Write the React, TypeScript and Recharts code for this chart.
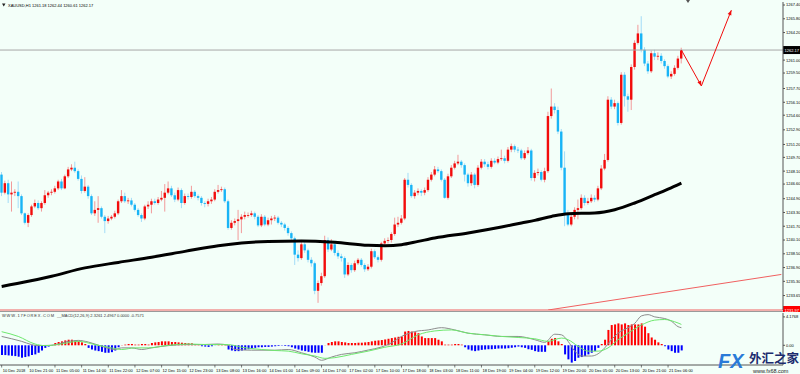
import { ComposedChart, Bar, Line, XAxis, YAxis, ReferenceLine, Cell } from 'recharts'

const FONT = '"Liberation Sans", Arial, sans-serif'
const BG = '#f3fff9'
const UP = '#f20c0c'
const UP_WICK = '#f29a9a'
const DOWN = '#18b4f6'
const DOWN_WICK = '#a3dcf7'

// bar slots across the plot, including the empty chart shift on the right
const SLOTS = 235

// XAUUSD H1 candles, 10 Dec 13:00 .. 21 Dec 10:00
const firstOpen = 1247.7
const closes = [
  1245.6, 1246.7, 1245.4, 1245.6, 1245.7, 1245.2, 1243.2, 1242.1, 1243.0, 1244.0,
  1244.4, 1243.8, 1244.4, 1245.3, 1245.6, 1245.7, 1246.1, 1246.9, 1246.1, 1247.5,
  1248.3, 1248.5, 1248.1, 1247.2, 1245.8, 1246.3, 1245.2, 1243.2, 1243.6, 1243.8,
  1242.8, 1242.3, 1242.6, 1242.8, 1243.2, 1244.6, 1245.2, 1244.6, 1244.7, 1244.2,
  1243.6, 1243.0, 1242.6, 1244.0, 1244.2, 1244.6, 1244.4, 1244.8, 1245.0, 1245.6,
  1246.1, 1245.3, 1244.8, 1245.9, 1244.4, 1245.2, 1245.1, 1245.7, 1245.2, 1245.0,
  1244.4, 1244.3, 1244.6, 1244.8, 1245.7, 1245.9, 1246.0, 1244.6, 1241.5, 1242.1,
  1242.3, 1242.5, 1242.8, 1243.0, 1243.0, 1243.2, 1242.8, 1241.8, 1242.8, 1241.9,
  1242.4, 1242.6, 1242.7, 1242.1, 1241.9, 1241.5, 1240.9, 1240.3, 1238.4, 1238.0,
  1239.6, 1238.9, 1237.8, 1237.4, 1234.2, 1235.1, 1235.9, 1240.1, 1239.0, 1239.6,
  1238.6, 1238.2, 1238.0, 1236.1, 1237.2, 1236.6, 1237.4, 1237.8, 1237.2, 1236.7,
  1237.0, 1238.8, 1238.1, 1237.8, 1239.7, 1240.0, 1240.1, 1240.8, 1241.9, 1242.1,
  1242.6, 1247.1, 1246.5, 1245.2, 1245.6, 1245.8, 1245.6, 1245.9, 1247.1, 1247.7,
  1248.3, 1248.1, 1247.1, 1245.0, 1247.5, 1248.5, 1249.0, 1249.2, 1248.8, 1247.7,
  1246.7, 1247.7, 1246.5, 1248.5, 1249.2, 1248.9, 1248.6, 1249.3, 1249.1, 1249.5,
  1249.6, 1249.3, 1250.6, 1251.0, 1250.6, 1250.5, 1249.6, 1250.2, 1250.5, 1247.3,
  1247.9, 1248.0, 1247.1, 1248.1, 1254.5, 1255.6, 1255.2, 1252.7, 1248.5, 1243.2,
  1241.9, 1242.8, 1243.6, 1243.8, 1245.0, 1244.4, 1244.6, 1245.0, 1244.8, 1246.1,
  1248.4, 1249.4, 1256.4, 1255.6, 1256.0, 1253.7, 1259.3, 1256.8, 1256.4, 1260.2,
  1263.0, 1264.1, 1262.2, 1260.6, 1259.7, 1261.8, 1261.4, 1261.5, 1260.9, 1260.3,
  1259.1, 1259.4, 1260.1, 1261.18, 1262.17,
]
const highs = [
  1248.0, 1247.0, 1247.1, 1246.9, 1246.0, 1246.9, 1245.4, 1243.3, 1243.2, 1244.2,
  1244.8, 1244.7, 1244.6, 1245.9, 1245.8, 1246.0, 1246.4, 1247.1, 1247.2, 1247.7,
  1248.6, 1248.9, 1249.2, 1248.3, 1247.6, 1247.4, 1246.5, 1245.4, 1244.6, 1245.2,
  1244.0, 1243.0, 1242.9, 1243.0, 1243.5, 1244.8, 1245.9, 1245.6, 1245.0, 1245.0,
  1244.4, 1243.8, 1243.2, 1244.2, 1244.6, 1244.9, 1244.9, 1245.1, 1245.8, 1246.6,
  1246.9, 1246.4, 1245.6, 1246.2, 1246.1, 1245.5, 1245.5, 1246.4, 1245.9, 1245.4,
  1245.2, 1244.6, 1244.9, 1245.1, 1246.0, 1246.5, 1246.3, 1246.2, 1244.8, 1242.4,
  1242.6, 1243.6, 1243.1, 1243.4, 1243.3, 1243.5, 1243.4, 1243.0, 1243.1, 1243.0,
  1242.7, 1242.9, 1243.0, 1242.9, 1242.3, 1242.1, 1241.7, 1241.1, 1240.5, 1238.9,
  1239.9, 1240.0, 1239.1, 1238.1, 1237.6, 1235.4, 1236.3, 1240.6, 1240.4, 1240.2,
  1239.8, 1238.9, 1238.5, 1238.2, 1237.5, 1237.4, 1237.7, 1238.0, 1238.0, 1237.4,
  1237.3, 1239.1, 1239.0, 1238.3, 1239.9, 1240.3, 1240.4, 1241.0, 1242.7, 1242.8,
  1243.0, 1247.3, 1247.9, 1246.7, 1245.9, 1246.1, 1246.0, 1246.2, 1247.4, 1248.0,
  1248.7, 1248.6, 1248.3, 1247.3, 1247.8, 1248.8, 1249.3, 1250.0, 1249.4, 1249.0,
  1247.9, 1248.0, 1247.9, 1248.8, 1249.5, 1249.5, 1249.2, 1249.6, 1249.6, 1249.8,
  1250.6, 1249.9, 1250.9, 1251.3, 1251.2, 1250.9, 1250.7, 1250.5, 1250.9, 1250.7,
  1248.2, 1248.4, 1248.2, 1248.5, 1255.0, 1257.7, 1256.0, 1255.6, 1253.0, 1250.4,
  1243.6, 1243.1, 1243.9, 1244.8, 1245.4, 1245.3, 1245.0, 1245.4, 1245.3, 1246.4,
  1248.8, 1250.1, 1256.8, 1256.7, 1256.4, 1256.2, 1259.6, 1259.6, 1257.1, 1260.5,
  1263.3, 1265.1, 1266.1, 1262.5, 1260.9, 1262.1, 1262.2, 1261.9, 1261.8, 1261.1,
  1260.5, 1259.7, 1260.4, 1261.5, 1262.44,
]
const lows = [
  1245.2, 1245.4, 1244.4, 1243.4, 1245.2, 1243.8, 1243.0, 1241.9, 1241.6, 1242.8,
  1243.8, 1243.6, 1243.4, 1244.2, 1245.0, 1245.3, 1245.5, 1245.9, 1245.9, 1246.0,
  1247.3, 1248.1, 1247.9, 1247.0, 1245.5, 1245.6, 1244.9, 1243.0, 1242.9, 1242.1,
  1242.6, 1240.9, 1242.0, 1242.4, 1242.6, 1243.0, 1244.4, 1244.4, 1244.3, 1244.0,
  1243.4, 1242.8, 1242.2, 1242.4, 1243.7, 1243.2, 1244.2, 1244.2, 1244.6, 1243.4,
  1245.4, 1245.1, 1244.5, 1244.6, 1243.8, 1244.2, 1244.8, 1244.9, 1245.0, 1244.7,
  1244.1, 1243.9, 1244.0, 1244.3, 1244.6, 1245.5, 1245.7, 1244.4, 1241.3, 1241.3,
  1241.8, 1240.1, 1240.9, 1242.5, 1242.7, 1242.8, 1242.5, 1241.6, 1241.6, 1241.7,
  1241.7, 1241.9, 1242.3, 1241.9, 1241.6, 1241.2, 1240.6, 1240.0, 1237.2, 1237.6,
  1237.8, 1238.6, 1237.5, 1237.0, 1233.8, 1232.8, 1234.8, 1235.7, 1238.7, 1238.8,
  1238.3, 1237.9, 1237.6, 1235.7, 1235.9, 1236.3, 1236.4, 1237.2, 1237.0, 1236.4,
  1236.5, 1236.8, 1237.9, 1237.5, 1237.6, 1239.5, 1239.7, 1239.8, 1240.6, 1241.6,
  1241.9, 1242.4, 1246.2, 1245.0, 1244.9, 1245.3, 1245.2, 1245.3, 1245.7, 1246.9,
  1247.5, 1247.9, 1246.9, 1244.9, 1244.8, 1247.3, 1248.3, 1248.8, 1248.5, 1246.9,
  1246.3, 1246.4, 1246.1, 1246.3, 1248.3, 1248.6, 1248.3, 1248.4, 1248.9, 1248.9,
  1249.3, 1249.0, 1249.1, 1250.3, 1250.3, 1250.2, 1249.4, 1249.4, 1250.0, 1247.0,
  1246.9, 1247.6, 1246.9, 1246.8, 1247.9, 1254.2, 1254.8, 1252.4, 1248.2, 1241.7,
  1241.7, 1241.7, 1242.5, 1242.5, 1243.6, 1244.1, 1244.2, 1244.4, 1244.5, 1244.6,
  1245.9, 1248.2, 1249.2, 1255.3, 1255.3, 1253.4, 1253.5, 1255.6, 1255.0, 1255.2,
  1259.9, 1262.8, 1261.9, 1260.3, 1259.4, 1259.5, 1261.0, 1261.0, 1260.6, 1260.0,
  1258.9, 1258.8, 1259.2, 1259.9, 1260.61,
]

// moving average (black), read at selected bars
const maIdx = [0, 8, 15, 25, 35, 45, 55, 65, 72, 80, 90, 100, 110, 115, 120, 125, 130, 140, 150, 156, 160, 165, 170, 178, 184, 190, 196, 200, 204]
const maVal = [1234.7, 1235.3, 1235.9, 1236.86, 1237.5, 1238.1, 1238.78, 1239.44, 1239.76, 1239.94, 1240.0, 1239.83, 1239.48, 1239.44, 1239.56, 1239.94, 1240.33, 1240.92, 1241.61, 1242.08, 1242.38, 1242.84, 1243.16, 1243.24, 1243.62, 1244.4, 1245.36, 1246.02, 1246.72]

// drawn objects
const trendIdx = [164, 234]
const trendVal = [1231.97, 1236.1]
const arrowIdx = [204, 210, 219]
const arrowVal = [1262.17, 1258.0, 1266.8]
const arrowAngles: Record<number, number> = { 210: 65, 219: -68 }

const lastPrice = 1262.17
const levelPrice = 1231.97

// MACD panel
const hist = [
  -1.44, -1.44, -1.49, -1.54, -1.59, -1.68, -1.83, -1.73, -1.63, -1.44,
  -1.34, -1.10, -0.77, -0.38, -0.19, 0.05, 0.34, 0.48, 0.58, 0.72,
  0.82, 0.82, 0.67, 0.58, 0.43, 0.19, -0.38, -0.62, -0.77, -0.86,
  -0.96, -1.10, -1.10, -1.01, -0.77, -0.29, 0.03, 0.10, 0.19, 0.19,
  0.10, 0.10, 0.19, 0.19, 0.10, 0.34, 0.43, 0.48, 0.58, 0.58,
  0.58, 0.48, 0.48, 0.43, 0.38, 0.34, 0.29, 0.29, 0.19, 0.10,
  -0.14, -0.19, -0.24, -0.14, -0.02, 0.10, 0.19, 0.10, -0.62, -0.77,
  -0.86, -0.86, -0.77, -0.67, -0.58, -0.48, -0.38, -0.29, -0.29, -0.24,
  -0.24, -0.19, -0.14, -0.10, -0.05, -0.10, -0.14, -0.29, -0.48, -0.62,
  -0.77, -0.86, -0.96, -1.06, -1.10, -1.10, -1.10, 0.02, 0.34, 0.48,
  0.58, 0.58, 0.48, 0.43, 0.34, 0.34, 0.34, 0.38, 0.38, 0.43,
  0.48, 0.58, 0.67, 0.72, 0.77, 0.86, 0.96, 1.06, 1.15, 1.25,
  1.30, 2.02, 2.11, 2.02, 1.92, 1.78, 1.30, 1.06, 1.06, 1.06,
  1.06, 0.82, 0.58, 0.10, 0.10, 0.10, 0.19, 0.19, 0.10, -0.29,
  -0.62, -0.77, -0.86, -0.77, -0.67, -0.62, -0.58, -0.58, -0.53, -0.48,
  -0.48, -0.48, -0.43, -0.38, -0.29, -0.19, -0.29, -0.38, -0.58, -0.67,
  -0.86, -0.96, -0.96, -0.96, 0.58, 0.96, 1.06, 0.58, 0.19, -1.34,
  -2.07, -2.55, -2.31, -1.83, -1.73, -1.59, -1.34, -1.10, -0.86, -0.38,
  0.19, 0.82, 2.26, 2.98, 3.07, 3.22, 3.07, 3.22, 2.98, 3.07,
  3.07, 3.07, 3.22, 2.74, 1.78, 1.15, 0.82, 0.43, 0.19, -0.14,
  -0.62, -0.86, -1.10, -1.10, -0.76,
]
const macdIdx = [0, 3, 6, 9, 11, 15, 20, 23, 26, 30, 34, 36, 39, 42, 45, 50, 55, 60, 65, 68, 70, 75, 82, 86, 90, 94, 96, 99, 102, 106, 110, 114, 117, 120, 124, 128, 132, 136, 140, 145, 150, 155, 160, 163, 166, 168, 170, 172, 174, 177, 179, 181, 183, 185, 188, 190, 192, 194, 196, 199, 201, 203, 204]
const macdVal = [1.30, 0.96, 0.58, 0.10, -0.05, 0, 0.58, 0.72, 0.48, -0.14, -0.62, -0.38, -0.38, -0.62, -0.38, -0.05, 0.10, 0.10, 0.19, 0, -0.62, -0.72, -0.72, -0.62, -1.10, -1.73, -2.21, -1.73, -1.34, -1.10, -0.70, -0.25, 0.35, 1.30, 2.02, 2.26, 2.59, 2.26, 1.78, 1.54, 1.30, 1.30, 0.82, 0.43, 1.63, 1.54, 0.58, -0.86, -1.58, -1.58, -1.25, -0.38, 0.82, 1.78, 2.59, 3.22, 4.32, 4.51, 4.18, 3.94, 3.55, 2.74, 2.59]
const sigIdx = [0, 5, 10, 13, 18, 23, 28, 33, 36, 40, 44, 50, 56, 62, 68, 72, 78, 82, 86, 90, 94, 97, 100, 105, 110, 115, 120, 125, 130, 135, 140, 145, 150, 155, 160, 164, 168, 170, 173, 176, 179, 182, 185, 188, 192, 196, 199, 202, 204]
const sigVal = [2.0, 1.3, 0.19, -0.05, 0.19, 0.58, 0.10, -0.38, -0.62, -0.38, -0.38, 0, 0.19, 0.10, 0.10, -0.29, -0.62, -0.77, -0.86, -1.25, -1.58, -1.92, -1.82, -1.34, -0.86, -0.29, 0.19, 1.54, 2.11, 2.26, 1.78, 1.54, 1.30, 1.15, 0.96, 0.58, 1.06, 0.82, -0.14, -0.86, -0.86, -0.38, 0.82, 1.78, 2.98, 3.70, 3.79, 3.46, 3.07]

const priceTicks = [1267.4, 1265.8, 1264.2, 1261.0, 1259.5, 1257.7, 1256.1, 1254.6, 1252.9, 1251.2, 1249.7, 1248.1, 1246.6, 1244.9, 1243.3, 1241.7, 1240.1, 1238.5, 1236.9, 1235.3, 1233.65]
const macdTicks = [4.1768, 0]
const dateIdx = [0, 8, 16, 24, 32, 40, 48, 56, 64, 72, 80, 88, 96, 104, 112, 120, 128, 136, 144, 152, 160, 168, 176, 184, 192, 200]
const dateLabels = [
  '10 Dec 2018', '10 Dec 21:00', '11 Dec 05:00', '11 Dec 14:00', '11 Dec 22:00', '12 Dec 07:00',
  '12 Dec 15:00', '12 Dec 23:00', '13 Dec 08:00', '13 Dec 16:00', '14 Dec 01:00', '14 Dec 09:00',
  '14 Dec 17:00', '17 Dec 02:00', '17 Dec 10:00', '17 Dec 18:00', '18 Dec 03:00', '18 Dec 11:00',
  '18 Dec 19:00', '19 Dec 04:00', '19 Dec 12:00', '19 Dec 20:00', '20 Dec 05:00', '20 Dec 13:00',
  '20 Dec 21:00', '21 Dec 06:00',
]

const pick = (idx: number[], val: number[], i: number) => {
  const j = idx.indexOf(i)
  return j >= 0 ? val[j] : null
}

const mainRows = Array.from({ length: SLOTS }, (_, i) => {
  const has = i < closes.length
  return {
    i,
    open: has ? (i === 0 ? firstOpen : closes[i - 1]) : null,
    close: has ? closes[i] : null,
    high: has ? highs[i] : null,
    low: has ? lows[i] : null,
    range: has ? [lows[i], highs[i]] : null,
    ma: pick(maIdx, maVal, i),
    trend: pick(trendIdx, trendVal, i),
    arrow: pick(arrowIdx, arrowVal, i),
  }
})

const macdRows = Array.from({ length: SLOTS }, (_, i) => ({
  i,
  hist: i < hist.length ? hist[i] : null,
  macd: pick(macdIdx, macdVal, i),
  signal: pick(sigIdx, sigVal, i),
}))

function Candle(props: any) {
  const { x, y, width, height, payload } = props
  if (!payload || payload.close == null) return <g />
  const { open, close, high, low } = payload
  const top = Math.min(y, y + height)
  const h = Math.abs(height)
  const k = high > low ? h / (high - low) : 0
  const up = close >= open
  const bTop = top + (high - Math.max(open, close)) * k
  const bBot = top + (high - Math.min(open, close)) * k
  const cx = x + width / 2
  return (
    <g>
      <line x1={cx} x2={cx} y1={top} y2={top + h} stroke={up ? UP_WICK : DOWN_WICK} strokeWidth={1} />
      <rect x={cx - 1.2} y={bTop} width={2.4} height={Math.max(0.8, bBot - bTop)} fill={up ? UP : DOWN} />
    </g>
  )
}

function ArrowHead(props: any) {
  const { cx, cy, index } = props
  const a = arrowAngles[index]
  if (a == null || cx == null || cy == null) return <g key={index} />
  return (
    <polygon
      key={index}
      points="0,0 -5,-2 -5,2"
      transform={`translate(${cx},${cy}) rotate(${a})`}
      fill={UP}
    />
  )
}

function PriceTag(props: any) {
  const { viewBox, text, bg } = props
  if (!viewBox) return null
  const x = viewBox.x + viewBox.width
  const y = viewBox.y
  return (
    <g>
      <rect x={x} y={y - 4} width={18} height={8} fill={bg} />
      <text x={x + 1.5} y={y + 1.6} fontSize={4} fill="#fff" fontFamily={FONT}>
        {text}
      </text>
    </g>
  )
}

function DateTick(props: any) {
  const { x, y, payload } = props
  const j = dateIdx.indexOf(payload.value)
  return (
    <g>
      <line x1={x} x2={x} y1={y} y2={y + 2.5} stroke="#444" strokeWidth={0.7} />
      <text x={x + 1} y={y + 6.5} fontSize={4} fill="#000" fontFamily={FONT}>
        {j >= 0 ? dateLabels[j] : ''}
      </text>
    </g>
  )
}

export default function App() {
  return (
    <div
      style={{
        position: 'fixed',
        left: 0,
        top: 0,
        width: 800,
        height: 374,
        background: BG,
        overflow: 'hidden',
        fontFamily: FONT,
      }}
    >
      <div style={{ position: 'absolute', left: 0, top: 0 }}>
        <ComposedChart width={800} height={312} data={mainRows} margin={{ top: 2, right: 0, left: 0, bottom: 2 }}>
          <XAxis dataKey="i" type="category" hide />
          <YAxis
            orientation="right"
            width={17}
            domain={[levelPrice, 1267.75]}
            allowDataOverflow
            ticks={priceTicks}
            interval={0}
            tickFormatter={(v: number) => v.toFixed(2)}
            tick={{ fontSize: 4, fill: '#000', fontFamily: FONT }}
            tickSize={2}
            tickMargin={1}
            stroke="#555"
          />
          <ReferenceLine y={lastPrice} stroke="#a8a8a8" strokeWidth={1} label={<PriceTag text="1262.17" bg="#000" />} />
          <ReferenceLine y={levelPrice} stroke="#f06060" strokeWidth={1} label={<PriceTag text="1231.97" bg="#ff0000" />} />
          <Line dataKey="trend" stroke="#f06060" strokeWidth={1} dot={false} connectNulls isAnimationActive={false} />
          <Line dataKey="ma" type="monotone" stroke="#000" strokeWidth={3} dot={false} connectNulls isAnimationActive={false} />
          <Bar dataKey="range" barSize={3} shape={Candle} isAnimationActive={false} />
          <Line dataKey="arrow" stroke={UP} strokeWidth={1} dot={ArrowHead} connectNulls isAnimationActive={false} />
        </ComposedChart>
      </div>

      <div style={{ position: 'absolute', left: 0, top: 312 }}>
        <ComposedChart width={800} height={62} data={macdRows} margin={{ top: 1, right: 0, left: 0, bottom: 0 }}>
          <XAxis
            dataKey="i"
            type="category"
            height={9}
            ticks={dateIdx}
            interval={0}
            tick={DateTick}
            tickLine={false}
            tickSize={0}
            tickMargin={0}
            stroke="#555"
          />
          <YAxis
            orientation="right"
            width={17}
            domain={[-2.9, 4.75]}
            allowDataOverflow
            ticks={macdTicks}
            interval={0}
            tickFormatter={(v: number) => (v === 0 ? '0.00' : v.toFixed(4))}
            tick={{ fontSize: 4, fill: '#000', fontFamily: FONT }}
            tickSize={2}
            tickMargin={1}
            stroke="#555"
          />
          <Bar dataKey="hist" barSize={2} isAnimationActive={false}>
            {macdRows.map((r) => (
              <Cell key={r.i} fill={(r.hist ?? 0) >= 0 ? '#ff0000' : '#0000ff'} />
            ))}
          </Bar>
          <Line dataKey="macd" type="monotone" stroke="#8c8c8c" strokeWidth={1} dot={false} connectNulls isAnimationActive={false} />
          <Line dataKey="signal" type="monotone" stroke="#6ee86e" strokeWidth={1} dot={false} connectNulls isAnimationActive={false} />
        </ComposedChart>
      </div>

      <svg
        width={800}
        height={374}
        style={{ position: 'absolute', left: 0, top: 0, pointerEvents: 'none' }}
      >
        <line x1={0} x2={783} y1={311.5} y2={311.5} stroke="#9a9a9a" strokeWidth={1} />
        <polygon points="2,3.5 5.5,3.5 3.75,6.5" fill="#222" />
        <text x={8} y={6.5} fontSize={4} fill="#000" fontFamily={FONT}>
          XAUUSD,H1  1261.18 1262.44 1260.61 1262.17
        </text>
        <polygon points="686,0 690,0 688,3" fill="#555" />
        <text x={2} y={317} fontSize={4} fill="#333" fontFamily={FONT} textLength={52} lengthAdjust="spacing">
          WWW.17FOREX.COM
        </text>
        <text x={57} y={317} fontSize={4} fill="#333" fontFamily={FONT}>
          __MACD(12,26,9) 2.3261 2.4967 0.0000 -0.7571
        </text>
        <text x={718} y={368} fontSize={20} fontWeight="bold" fontStyle="italic" fill="#2a7ad8" fontFamily={FONT}>
          FX
        </text>
        <text x={749} y={363} fontSize={12.5} fontWeight="bold" fill="#1c2c6e" fontFamily='"Noto Sans CJK SC", sans-serif'>
          外汇之家
        </text>
        <text x={753} y={372.5} fontSize={5.5} fill="#222" fontFamily={FONT}>
          www.fx68.com
        </text>
      </svg>
    </div>
  )
}
